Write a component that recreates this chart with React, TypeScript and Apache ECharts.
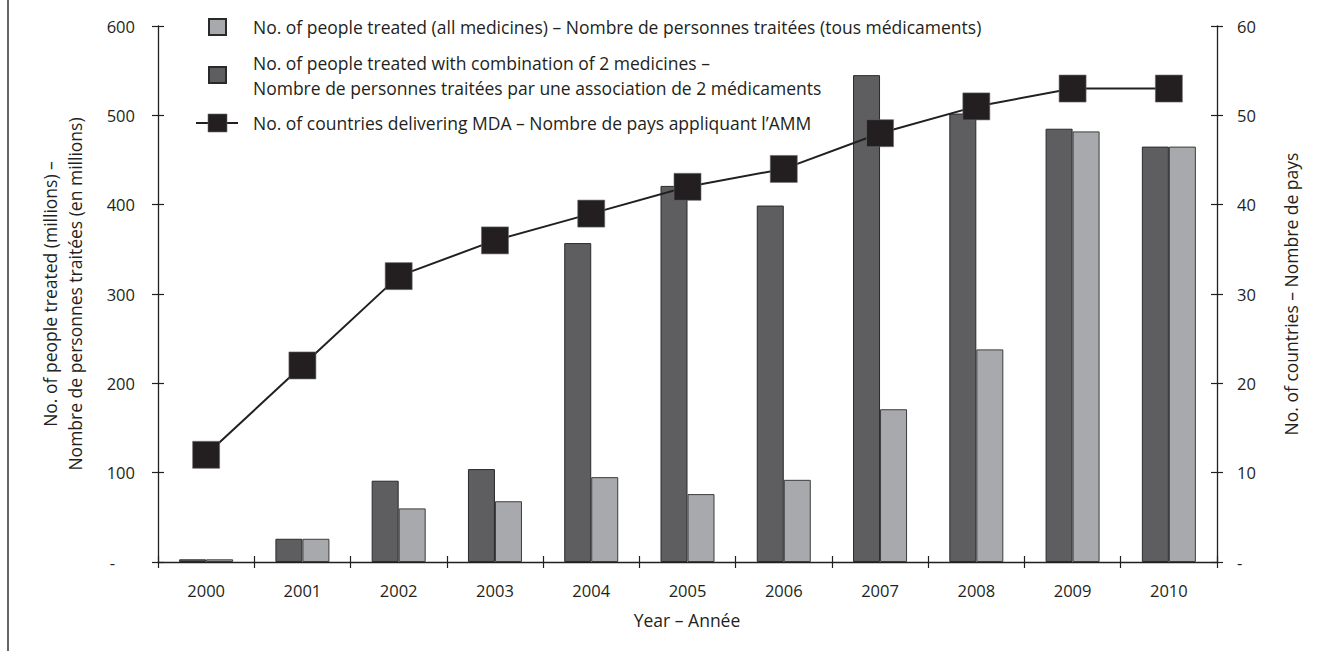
import React, { useEffect, useRef } from 'react';
import * as echarts from 'echarts';

const years = ['2000', '2001', '2002', '2003', '2004', '2005', '2006', '2007', '2008', '2009', '2010'];
// dark bars: combination of 2 medicines
const combo = [3, 26, 91, 104, 357, 421, 399, 545, 502, 485, 465];
// light bars: all medicines
const allMed = [3, 26, 60, 68, 95, 76, 92, 171, 238, 482, 465];
// line: number of countries delivering MDA
const countries = [12, 22, 32, 36, 39, 42, 44, 48, 51, 53, 53];

const leftTicks = { min: 0, max: 600, interval: 100 };
const rightTicks = { min: 0, max: 60, interval: 10 };

const nameAll = 'No. of people treated (all medicines) – Nombre de personnes traitées (tous médicaments)';
const nameCombo = 'No. of people treated with combination of 2 medicines –\nNombre de personnes traitées par une association de 2 médicaments';
const nameCountries = 'No. of countries delivering MDA – Nombre de pays appliquant l’AMM';
const leftTitle = 'No. of people treated (millions) –\nNombre de personnes traitées (en millions)';
const rightTitle = 'No. of countries – Nombre de pays';
const xTitle = 'Year – Année';

const FONT = '"Open Sans", "Noto Sans", sans-serif';
const TXT = '#231f20';
const DARK = '#5e5e60';
const LIGHT = '#a8a9ac';
const FS = 16.5;
const FL = 17.5;

export default function App() {
  const ref = useRef<HTMLDivElement>(null);
  useEffect(() => {
    document.body.style.margin = '0';
    const chart = echarts.init(ref.current!, null, { renderer: 'svg' });
    const axisLine = { show: true, lineStyle: { color: TXT, width: 1.3 } };
    const option: any = {
      animation: false,
      backgroundColor: '#ffffff',
      textStyle: { fontFamily: FONT, color: TXT },
      grid: { left: 158, right: 124, top: 26, bottom: 89, containLabel: false },
      xAxis: [
        {
          type: 'category',
          data: years,
          boundaryGap: true,
          axisLine,
          axisTick: { show: true, length: 6, lineStyle: { color: TXT, width: 1.2 } },
          axisLabel: { margin: 20, fontSize: FS, color: TXT, fontFamily: FONT },
          splitLine: { show: false },
        },
        {
          type: 'category',
          data: years,
          position: 'bottom',
          boundaryGap: true,
          axisLine: { show: false },
          axisTick: { show: true, inside: true, length: 6, lineStyle: { color: TXT, width: 1.2 } },
          axisLabel: { show: false },
          splitLine: { show: false },
        },
      ],
      yAxis: [
        {
          type: 'value',
          position: 'left',
          ...leftTicks,
          axisLine,
          axisTick: { show: true, length: 6, lineStyle: { color: TXT, width: 1.2 } },
          axisLabel: {
            margin: 23,
            fontSize: FS,
            color: TXT,
            fontFamily: FONT,
            formatter: (v: number) => (v === 0 ? '{z|-}' : String(v)),
            rich: { z: { padding: [0, 20, 0, 0], fontSize: FS, fontFamily: FONT, color: TXT } },
          },
          splitLine: { show: false },
        },
        {
          type: 'value',
          position: 'right',
          ...rightTicks,
          axisLine,
          axisTick: { show: true, length: 6, lineStyle: { color: TXT, width: 1.2 } },
          axisLabel: {
            margin: 20,
            fontSize: FS,
            color: TXT,
            fontFamily: FONT,
            formatter: (v: number) => (v === 0 ? '-' : String(v)),
          },
          splitLine: { show: false },
        },
        {
          type: 'value',
          position: 'left',
          ...leftTicks,
          axisLine: { show: false },
          axisTick: { show: true, inside: true, length: 6, lineStyle: { color: TXT, width: 1.2 } },
          axisLabel: { show: false },
          splitLine: { show: false },
        },
        {
          type: 'value',
          position: 'right',
          ...rightTicks,
          axisLine: { show: false },
          axisTick: { show: true, inside: true, length: 6, lineStyle: { color: TXT, width: 1.2 } },
          axisLabel: { show: false },
          splitLine: { show: false },
        },
      ],
      series: [
        {
          name: 'No. of people treated with combination of 2 medicines',
          type: 'bar',
          data: combo,
          barWidth: 27,
          barGap: '0%',
          itemStyle: { color: DARK, borderColor: '#2a2a2a', borderWidth: 1 },
          z: 2,
        },
        {
          name: 'No. of people treated (all medicines)',
          type: 'bar',
          data: allMed,
          barWidth: 27,
          barGap: '0%',
          itemStyle: { color: LIGHT, borderColor: '#3c3c3c', borderWidth: 1 },
          z: 2,
        },
        {
          name: 'No. of countries delivering MDA',
          type: 'line',
          yAxisIndex: 1,
          data: countries,
          symbol: 'rect',
          symbolSize: 27,
          lineStyle: { color: TXT, width: 2 },
          itemStyle: { color: TXT, borderColor: '#6a6a6a', borderWidth: 0.6 },
          z: 5,
        },
      ],
      graphic: [
        { type: 'line', shape: { x1: 8, y1: 0, x2: 8, y2: 651 }, style: { stroke: '#333', lineWidth: 1.5 } },
        // legend
        { type: 'rect', shape: { x: 209, y: 19, width: 17, height: 16 }, style: { fill: LIGHT, stroke: '#2a2a2a', lineWidth: 2 } },
        { type: 'text', x: 253, y: 27, style: { text: nameAll, fill: TXT, font: `${FL}px ${FONT}`, verticalAlign: 'middle' } },
        { type: 'rect', shape: { x: 209, y: 67, width: 17, height: 16 }, style: { fill: DARK, stroke: '#2a2a2a', lineWidth: 2 } },
        { type: 'text', x: 253, y: 75, style: { text: nameCombo, fill: TXT, font: `${FL}px ${FONT}`, verticalAlign: 'middle', lineHeight: 25 } },
        { type: 'line', shape: { x1: 196, y1: 123, x2: 238, y2: 123 }, style: { stroke: TXT, lineWidth: 2 } },
        { type: 'rect', shape: { x: 208, y: 114, width: 19, height: 18 }, style: { fill: TXT, stroke: '#6a6a6a', lineWidth: 0.6 } },
        { type: 'text', x: 253, y: 123, style: { text: nameCountries, fill: TXT, font: `${FL}px ${FONT}`, verticalAlign: 'middle' } },
        // axis titles
        {
          type: 'text', x: 62, y: 294, rotation: Math.PI / 2,
          style: { text: leftTitle, fill: TXT, font: `${FL}px ${FONT}`, align: 'center', verticalAlign: 'middle', lineHeight: 25 },
        },
        {
          type: 'text', x: 1291, y: 294, rotation: Math.PI / 2,
          style: { text: rightTitle, fill: TXT, font: `${FL}px ${FONT}`, align: 'center', verticalAlign: 'middle' },
        },
        {
          type: 'text', x: 687, y: 620,
          style: { text: xTitle, fill: TXT, font: `${FL}px ${FONT}`, align: 'center', verticalAlign: 'middle' },
        },
      ],
    };
    chart.setOption(option);
    return () => chart.dispose();
  }, []);
  return <div ref={ref} style={{ width: 1341, height: 651, background: '#fff' }} />;
}
